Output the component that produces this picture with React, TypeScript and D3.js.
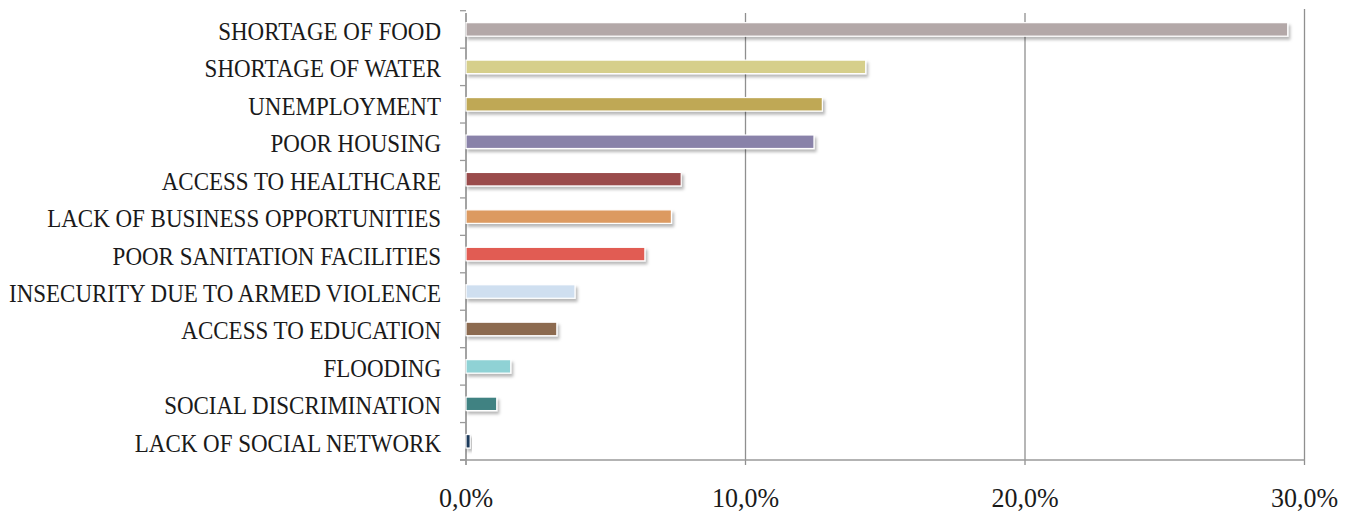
import React from "react";
import * as d3 from "d3";

const categories = [
  "SHORTAGE OF FOOD",
  "SHORTAGE OF WATER",
  "UNEMPLOYMENT",
  "POOR HOUSING",
  "ACCESS TO HEALTHCARE",
  "LACK OF BUSINESS OPPORTUNITIES",
  "POOR SANITATION FACILITIES",
  "INSECURITY DUE TO ARMED VIOLENCE",
  "ACCESS TO EDUCATION",
  "FLOODING",
  "SOCIAL DISCRIMINATION",
  "LACK OF SOCIAL NETWORK",
];

const values = [29.4, 14.3, 12.75, 12.45, 7.7, 7.35, 6.4, 3.9, 3.25, 1.6, 1.1, 0.15];

const barColors = [
  "#b3a8a8",
  "#d6cf8b",
  "#bfa855",
  "#8982a9",
  "#9a4c4c",
  "#dc9a61",
  "#e15b53",
  "#cfdff0",
  "#8c6a4f",
  "#8fd2d5",
  "#418282",
  "#1e3a5b",
];

const xTicks = [0, 10, 20, 30];

const W = 1359;
const H = 513;
const left = 466;
const right = 1304.5;
const top = 10.7;
const bottom = 460;

const fmt = (v: number) => v.toFixed(1).replace(".", ",") + "%";

export default function App() {
  const x = d3.scaleLinear().domain([0, 30]).range([left, right]);
  const y = d3.scaleBand<string>().domain(categories).range([top, bottom]).paddingInner(0).paddingOuter(0);
  const band = y.bandwidth();
  const barH = 13.5;
  const font = "'Liberation Serif', 'Times New Roman', serif";

  return (
    <svg
      width={W}
      height={H}
      style={{ position: "absolute", left: 0, top: 0, background: "#fff" }}
    >
      <defs>
        <filter id="barShadow" x="-10%" y="-60%" width="130%" height="260%">
          <feDropShadow dx={2} dy={3} stdDeviation={1.8} floodColor="#000" floodOpacity={0.28} />
        </filter>
      </defs>

      {/* vertical gridlines */}
      {xTicks.map((t) => (
        <line
          key={"g" + t}
          x1={x(t)}
          x2={x(t)}
          y1={t === 30 ? 9 : 13}
          y2={bottom + 5}
          stroke="#8f8f8f"
          strokeWidth={1.3}
        />
      ))}

      {/* category axis */}
      <line x1={left} x2={left} y1={13} y2={bottom + 5} stroke="#9a9a9a" strokeWidth={1.3} />
      {d3.range(categories.length + 1).map((i) => (
        <line
          key={"yt" + i}
          x1={left - 6}
          x2={left}
          y1={top + i * band}
          y2={top + i * band}
          stroke="#9a9a9a"
          strokeWidth={1.3}
        />
      ))}

      {/* value axis */}
      <line x1={left - 6} x2={right} y1={bottom} y2={bottom} stroke="#9a9a9a" strokeWidth={1.3} />

      {/* bars */}
      {categories.map((c, i) => (
        <rect
          key={c}
          x={x(0)}
          y={(y(c) as number) + band / 2 - barH / 2}
          width={x(values[i]) - x(0)}
          height={barH}
          fill={barColors[i]}
          stroke="#ffffff"
          strokeWidth={1.2}
          filter="url(#barShadow)"
        />
      ))}

      {/* category labels */}
      {categories.map((c) => (
        <text
          key={"l" + c}
          transform={`translate(441,${(y(c) as number) + band / 2 + 10.5}) scale(1,1.1)`}
          textAnchor="end"
          fontFamily={font}
          fontSize={23}
          fill="#1a1a1a"
        >
          {c}
        </text>
      ))}

      {/* tick labels */}
      {xTicks.map((t) => (
        <text
          key={"t" + t}
          transform={`translate(${x(t)},506.5) scale(1,1.08)`}
          textAnchor="middle"
          fontFamily={font}
          fontSize={26}
          fill="#1a1a1a"
        >
          {fmt(t)}
        </text>
      ))}
    </svg>
  );
}
